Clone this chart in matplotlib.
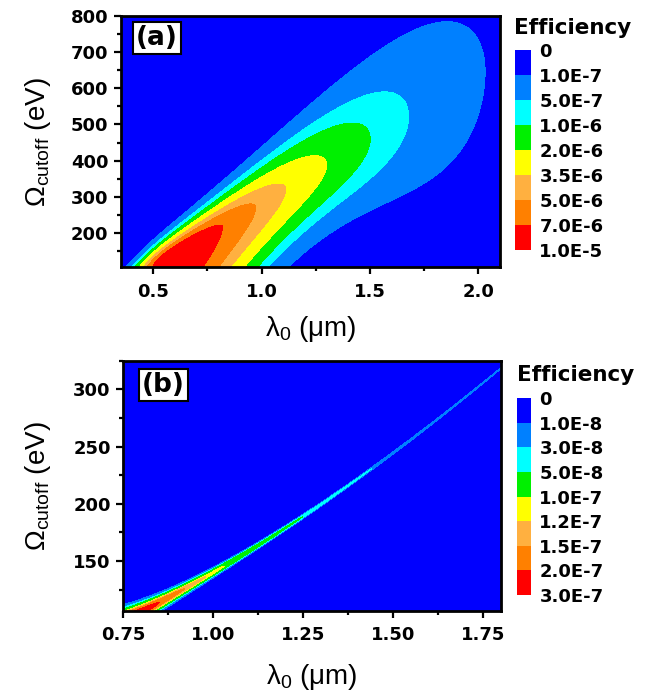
import numpy as np
import matplotlib
matplotlib.use("Agg")
import matplotlib as mpl
import matplotlib.pyplot as plt
from matplotlib.colors import ListedColormap, BoundaryNorm
from matplotlib.ticker import MultipleLocator

plt.rcParams['mathtext.fontset'] = 'custom'
plt.rcParams['mathtext.rm'] = 'Liberation Sans'
plt.rcParams['mathtext.it'] = 'Liberation Sans:italic'
plt.rcParams['mathtext.bf'] = 'Liberation Sans:bold'

# ---------------- data / read-off parameters ----------------
band_colors = ["#0000FF", "#0080FF", "#00FFFF", "#00F000",
               "#FFFF00", "#FFB040", "#FF8000", "#FF0000"]

levels_a = [0, 1e-7, 5e-7, 1e-6, 2e-6, 3.5e-6, 5e-6, 7e-6, 1e-5]
labels_a = ["0", "1.0E-7", "5.0E-7", "1.0E-6", "2.0E-6", "3.5E-6",
            "5.0E-6", "7.0E-6", "1.0E-5"]
levels_b = [0, 1e-8, 3e-8, 5e-8, 1e-7, 1.2e-7, 1.5e-7, 2e-7, 3e-7]
labels_b = ["0", "1.0E-8", "3.0E-8", "5.0E-8", "1.0E-7", "1.2E-7",
            "1.5E-7", "2.0E-7", "3.0E-7"]

# panel (a) efficiency map, described by a ridge
ridge_a_lam0, ridge_a_om0, ridge_a_slope = 0.82, 217.0, 354.0   # um, eV, eV/um
amp_a0, amp_a_k = 1.6e-5, 1.23                                   # ridge efficiency vs lambda
amp_a_rise, amp_a_rise_w = 0.48, 0.045                           # onset at short lambda
s_hi_a = [16.4, 0.4, 40.0]          # Gaussian width above ridge (eV)
w_lo_a = [115.0, -61.0, 290.0]      # width below ridge (eV), around 1.15 um

# panel (b) narrow ridge
ridge_b_a, ridge_b_b, ridge_b_n = 25.5, 114.4, 1.6
amp_b1, amp_b_p = 1.114e-7, 3.6
s_b_inf, s_b_1, s_b_tau = 0.6, 4.8, 0.225

xlim_a, ylim_a = (0.35, 2.1), (105, 800)
xlim_b, ylim_b = (0.75, 1.80), (106.5, 325)

# ---------------- figure ----------------
W, H = 649, 694
fig = plt.figure(figsize=(W / 100, H / 100), dpi=100)


def rect(l, r, t, b):
    return [l / W, 1 - b / H, (r - l) / W, (b - t) / H]


axa = fig.add_axes(rect(120.7, 500, 16, 267.3))
axb = fig.add_axes(rect(123.3, 501, 360.7, 610.7))

cmap = ListedColormap(band_colors)
cmap.set_over(band_colors[-1])
cmap.set_under(band_colors[0])

# ----- panel (a)
lam = np.linspace(xlim_a[0], xlim_a[1], 900)
om = np.linspace(ylim_a[0], ylim_a[1], 900)
L, O = np.meshgrid(lam, om)
ridge = ridge_a_om0 + ridge_a_slope * (L - ridge_a_lam0)
amp = amp_a0 * np.exp(-amp_a_k * L ** 2) / (1 + np.exp(-(L - amp_a_rise) / amp_a_rise_w))
d = O - ridge
s_hi = s_hi_a[0] + s_hi_a[1] * L + s_hi_a[2] * L ** 2
w_lo = w_lo_a[0] + w_lo_a[1] * (L - 1.15) + w_lo_a[2] * (L - 1.15) ** 2
q = np.where(d > 0, 0.5 * (d / s_hi) ** 2, (np.abs(d) / w_lo) ** 2)
Ea = amp * np.exp(-q)
norm_a = BoundaryNorm(levels_a, 8)
axa.contourf(L, O, Ea, levels=levels_a, cmap=cmap, norm=norm_a, extend='both')

# ----- panel (b)
lam_b = np.linspace(xlim_b[0], xlim_b[1], 1400)
d_b = np.concatenate([np.linspace(-260, -25, 120),
                      np.linspace(-25, 25, 1600)[1:-1],
                      np.linspace(25, 260, 120)])
Lb, Db = np.meshgrid(lam_b, d_b)
Ob = ridge_b_a + ridge_b_b * Lb ** ridge_b_n + Db
amp_b = amp_b1 * Lb ** (-amp_b_p)
s_b = s_b_inf + s_b_1 * np.exp(-(Lb - 0.75) / s_b_tau)
Eb = amp_b * np.exp(-0.5 * (Db / s_b) ** 2)
norm_b = BoundaryNorm(levels_b, 8)
axb.contourf(Lb, Ob, Eb, levels=levels_b, cmap=cmap, norm=norm_b, extend='both')


def style(ax, xlim, ylim, xmaj, xmin, ymaj, ymin):
    ax.set_xlim(*xlim)
    ax.set_ylim(*ylim)
    ax.xaxis.set_major_locator(MultipleLocator(xmaj))
    ax.xaxis.set_minor_locator(MultipleLocator(xmin))
    ax.yaxis.set_major_locator(MultipleLocator(ymaj))
    ax.yaxis.set_minor_locator(MultipleLocator(ymin))
    for s in ax.spines.values():
        s.set_linewidth(2.0)
    ax.tick_params(which='both', direction='out', top=False, right=False,
                   width=1.6, labelsize=13)
    ax.tick_params(which='major', length=5)
    ax.tick_params(which='minor', length=3)
    ax.tick_params(axis='x', pad=6)
    ax.tick_params(axis='y', pad=4)
    for lab in ax.get_xticklabels() + ax.get_yticklabels():
        lab.set_fontweight('bold')


style(axa, xlim_a, ylim_a, 0.5, 0.25, 100, 50)
style(axb, xlim_b, ylim_b, 0.25, 0.125, 50, 25)

lab_font = dict(family='Liberation Sans', fontsize=20)
for ax in (axa, axb):
    ax.set_ylabel(r'Ω$_{\mathrm{cutoff}}$ (eV)', **lab_font)
    ax.set_xlabel(r'λ$_{0}$ (μm)', **lab_font)
axa.yaxis.set_label_coords(-0.179, 0.5)
axb.yaxis.set_label_coords(-0.186, 0.5)
axa.xaxis.set_label_coords(0.5, -0.185)
axb.xaxis.set_label_coords(0.5, -0.205)

box = dict(boxstyle='square,pad=0.12', facecolor='white', edgecolor='black', linewidth=1.5)
axa.text(0.040, 0.964, '(a)', transform=axa.transAxes, ha='left', va='top',
         fontsize=19, fontweight='bold', bbox=box)
axb.text(0.0495, 0.955, '(b)', transform=axb.transAxes, ha='left', va='top',
         fontsize=19, fontweight='bold', bbox=box)


def colorbar(rect_px, levels, labels, title_xy):
    cax = fig.add_axes(rect(*rect_px))
    sm = mpl.cm.ScalarMappable(norm=BoundaryNorm(levels, 8), cmap=ListedColormap(band_colors))
    cb = fig.colorbar(sm, cax=cax, ticks=levels, spacing='uniform', boundaries=levels)
    cb.outline.set_visible(False)
    cax.invert_yaxis()
    cb.set_ticklabels(labels)
    cax.tick_params(length=0, pad=6, labelsize=13)
    for t in cax.get_yticklabels():
        t.set_fontweight('bold')
    fig.text(title_xy[0] / W, 1 - title_xy[1] / H, 'Efficiency', ha='left', va='center',
             fontsize=15.5, fontweight='bold')


colorbar((515, 531, 50, 250), levels_a, labels_a, (514, 28))
colorbar((517, 531, 398.3, 595), levels_b, labels_b, (517, 375))

fig.savefig('out.png', dpi=100)
